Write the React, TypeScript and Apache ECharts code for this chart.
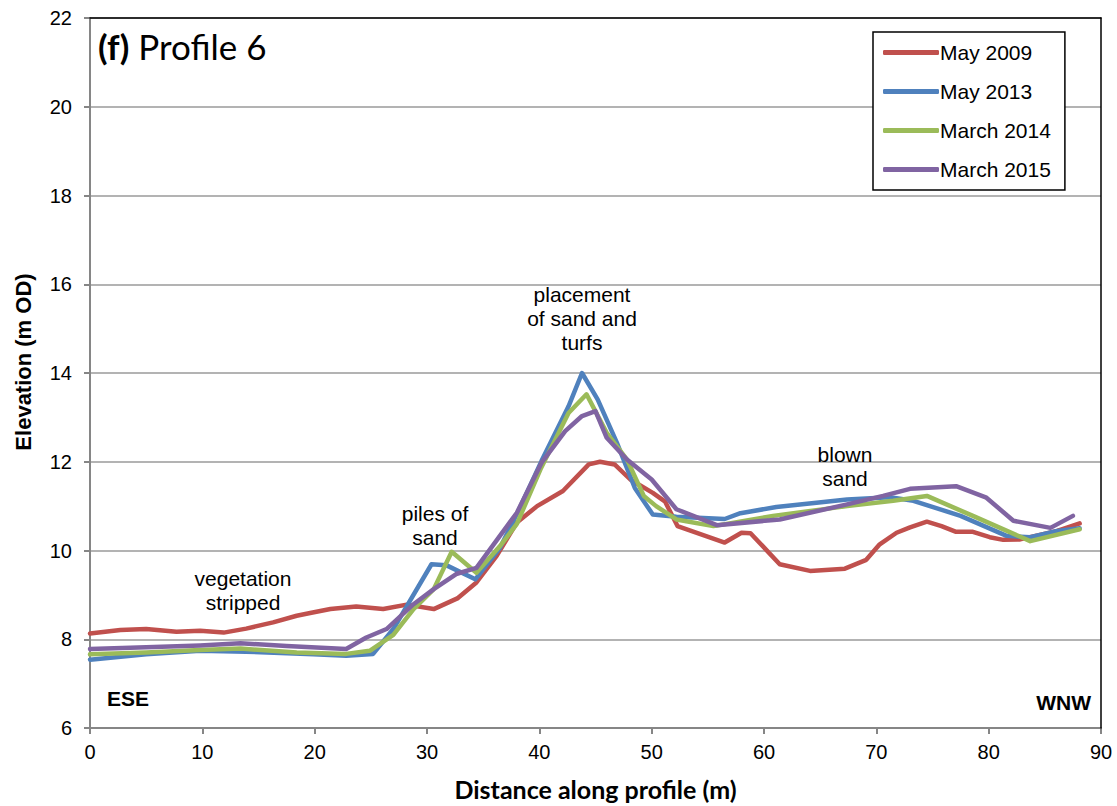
import React, { useEffect, useRef } from "react";
import * as echarts from "echarts";

// Elevation profiles: [distance along profile (m), elevation (m OD)]
const may2009: [number, number][] = [
  [0, 8.13], [2.7, 8.21], [5, 8.23], [7.7, 8.17], [9.8, 8.19], [11.9, 8.15], [13.9, 8.24],
  [16.3, 8.38], [18.4, 8.53], [19.6, 8.59], [21.4, 8.68], [23.7, 8.74], [26.1, 8.68],
  [28.2, 8.78], [30.6, 8.68], [32.7, 8.92], [34.4, 9.28], [36.2, 9.88], [38, 10.63],
  [39.8, 11.0], [42.1, 11.34], [44.4, 11.94], [45.4, 12.0], [46.7, 11.94], [48.1, 11.6],
  [50.1, 11.3], [51.2, 11.1], [52.3, 10.55], [56.5, 10.18], [58, 10.4], [58.8, 10.39],
  [61.4, 9.69], [64.1, 9.54], [67.2, 9.59], [69.1, 9.79], [70.3, 10.14], [71.8, 10.4],
  [73, 10.52], [74.5, 10.65], [75.8, 10.55], [77.1, 10.42], [78.6, 10.42], [80.1, 10.3],
  [81.3, 10.24], [82.8, 10.25], [86.1, 10.44], [88.1, 10.61],
];
const may2013: [number, number][] = [
  [0, 7.54], [5, 7.66], [9.8, 7.74], [13.9, 7.72], [19.9, 7.66], [22.8, 7.63], [25.2, 7.67],
  [27, 8.23], [30.4, 9.69], [31.7, 9.67], [34.3, 9.35], [36.5, 10.06], [38, 10.82],
  [40.2, 12.02], [42.6, 13.25], [43.8, 14.0], [45.2, 13.4], [46.9, 12.43], [48.5, 11.41],
  [50.1, 10.81], [52.2, 10.76], [56.5, 10.71], [57.9, 10.84], [61.1, 10.98], [67.4, 11.15],
  [71.2, 11.2], [73.3, 11.12], [77.5, 10.78], [81.6, 10.33], [83.7, 10.3], [86.1, 10.44],
  [88.1, 10.5],
];
const march2014: [number, number][] = [
  [0, 7.66], [5, 7.7], [9.8, 7.76], [13.4, 7.79], [18.4, 7.7], [22.8, 7.67], [24.9, 7.74],
  [27, 8.1], [28.8, 8.68], [30.6, 9.13], [32.2, 9.97], [34.4, 9.5], [36.5, 10.1], [38, 10.6],
  [40.1, 11.83], [42.6, 13.1], [44.2, 13.52], [46, 12.65], [47.8, 12.05], [49.3, 11.23],
  [50.4, 11.0], [52.2, 10.7], [55.5, 10.55], [60.8, 10.78], [67.4, 11.0], [71.5, 11.12],
  [74.5, 11.23], [78.6, 10.78], [83.7, 10.21], [88.1, 10.48],
];
const march2015: [number, number][] = [
  [0, 7.78], [5, 7.82], [9.8, 7.86], [13.4, 7.91], [17.5, 7.85], [22.8, 7.78], [24.6, 8.04],
  [26.4, 8.23], [28.8, 8.79], [30.6, 9.13], [32.6, 9.47], [34.4, 9.61], [38, 10.85],
  [40.2, 11.98], [42.3, 12.69], [43.8, 13.03], [45, 13.14], [46, 12.54], [47.8, 12.05],
  [50, 11.6], [52.2, 10.93], [55.8, 10.57], [61.4, 10.7], [67.4, 11.04], [70.6, 11.23],
  [73, 11.39], [77.1, 11.45], [79.8, 11.19], [82.2, 10.67], [85.5, 10.51], [87.5, 10.78],
];

const seriesNames = ["May 2009", "May 2013", "March 2014", "March 2015"];
const seriesColors = ["#C0504D", "#4F81BD", "#9BBB59", "#8064A2"];
const seriesData = [may2009, may2013, march2014, march2015];

const annotations = [
  { text: "vegetation\nstripped", x: 243, y: 590 },
  { text: "piles of\nsand", x: 435, y: 525 },
  { text: "placement\nof sand and\nturfs", x: 582, y: 318 },
  { text: "blown\nsand", x: 845, y: 466 },
];

const AXIS_GRAY = "#868686";
const GRID_GRAY = "#9a9a9a";
const ARIAL = "'Liberation Sans', Arial, sans-serif";
const CALIBRI = "Lato, 'Open Sans', sans-serif";

export default function App() {
  const ref = useRef<HTMLDivElement>(null);

  useEffect(() => {
    if (!ref.current) return;
    const chart = echarts.init(ref.current, undefined, { renderer: "svg" });

    const option: any = {
      animation: false,
      backgroundColor: "#ffffff",
      grid: { left: 90, top: 18, right: 16, bottom: 77, containLabel: false },
      legend: {
        data: seriesNames,
        orient: "vertical",
        left: 873,
        top: 32,
        icon: "roundRect",
        itemWidth: 56,
        itemHeight: 5,
        itemGap: 18,
        padding: [10, 14, 10, 10],
        borderColor: "#000",
        borderWidth: 1.5,
        backgroundColor: "#fff",
        textStyle: { fontFamily: ARIAL, fontSize: 21, color: "#000", lineHeight: 21, padding: [0, 0, 0, -4] },
      },
      xAxis: [
        {
          type: "value",
          min: 0,
          max: 90,
          interval: 10,
          name: "Distance along profile (m)",
          nameLocation: "middle",
          nameGap: 48,
          nameTextStyle: { fontFamily: CALIBRI, fontWeight: "bold", fontSize: 25, color: "#000" },
          axisLine: { show: true, onZero: false, lineStyle: { color: AXIS_GRAY, width: 2 } },
          axisTick: { show: true, length: 6, lineStyle: { color: AXIS_GRAY, width: 2 } },
          axisLabel: { fontFamily: ARIAL, fontSize: 20, color: "#000", margin: 14 },
          splitLine: { show: false },
        },
        {
          type: "value",
          position: "top",
          min: 0,
          max: 90,
          z: 5,
          axisLine: { show: true, onZero: false, lineStyle: { color: "#000", width: 1.5 } },
          axisTick: { show: false },
          axisLabel: { show: false },
          splitLine: { show: false },
        },
      ],
      yAxis: [
        {
          type: "value",
          min: 6,
          max: 22,
          interval: 2,
          axisLine: { show: true, onZero: false, lineStyle: { color: AXIS_GRAY, width: 2 } },
          axisTick: { show: true, length: 6, lineStyle: { color: AXIS_GRAY, width: 2 } },
          axisLabel: { fontFamily: ARIAL, fontSize: 20, color: "#000", margin: 18 },
          splitLine: { show: true, lineStyle: { color: GRID_GRAY, width: 1.5 } },
        },
        {
          type: "value",
          position: "right",
          min: 6,
          max: 22,
          z: 5,
          axisLine: { show: true, onZero: false, lineStyle: { color: "#000", width: 1.5 } },
          axisTick: { show: false },
          axisLabel: { show: false },
          splitLine: { show: false },
        },
      ],
      series: seriesNames.map((name, i) => ({
        name,
        type: "line",
        xAxisIndex: 0,
        yAxisIndex: 0,
        data: seriesData[i],
        symbol: "none",
        smooth: false,
        color: seriesColors[i],
        itemStyle: { color: seriesColors[i] },
        lineStyle: { color: seriesColors[i], width: 4.5, cap: "round", join: "round" },
        z: 2 + i,
      })),
      graphic: [
        {
          type: "text",
          left: 98,
          top: 28,
          z: 10,
          style: {
            text: "{b|(f)} Profile 6",
            font: "35px Lato, 'Open Sans', sans-serif",
            fill: "#000",
            rich: {
              b: { fontFamily: CALIBRI, fontWeight: "bold", fontSize: 35, fill: "#000" },
            },
          },
        },
        {
          type: "text",
          x: 23,
          y: 362,
          rotation: Math.PI / 2,
          z: 10,
          style: {
            text: "Elevation (m OD)",
            fontFamily: ARIAL,
            fontWeight: "bold",
            fontSize: 22,
            fill: "#000",
            align: "center",
            verticalAlign: "middle",
          },
        },
        ...annotations.map((a) => ({
          type: "text",
          x: a.x,
          y: a.y,
          z: 10,
          style: {
            text: a.text,
            fontFamily: ARIAL,
            fontSize: 21,
            lineHeight: 24,
            fill: "#000",
            align: "center",
            verticalAlign: "middle",
          },
        })),
        {
          type: "text",
          x: 107,
          y: 698,
          z: 10,
          style: { text: "ESE", fontFamily: ARIAL, fontWeight: "bold", fontSize: 21, fill: "#000", verticalAlign: "middle" },
        },
        {
          type: "text",
          x: 1091,
          y: 702,
          z: 10,
          style: { text: "WNW", fontFamily: ARIAL, fontWeight: "bold", fontSize: 21, fill: "#000", align: "right", verticalAlign: "middle" },
        },
      ],
    };

    chart.setOption(option);
    return () => chart.dispose();
  }, []);

  return <div ref={ref} style={{ width: 1117, height: 806, position: "absolute", left: 0, top: 0 }} />;
}
